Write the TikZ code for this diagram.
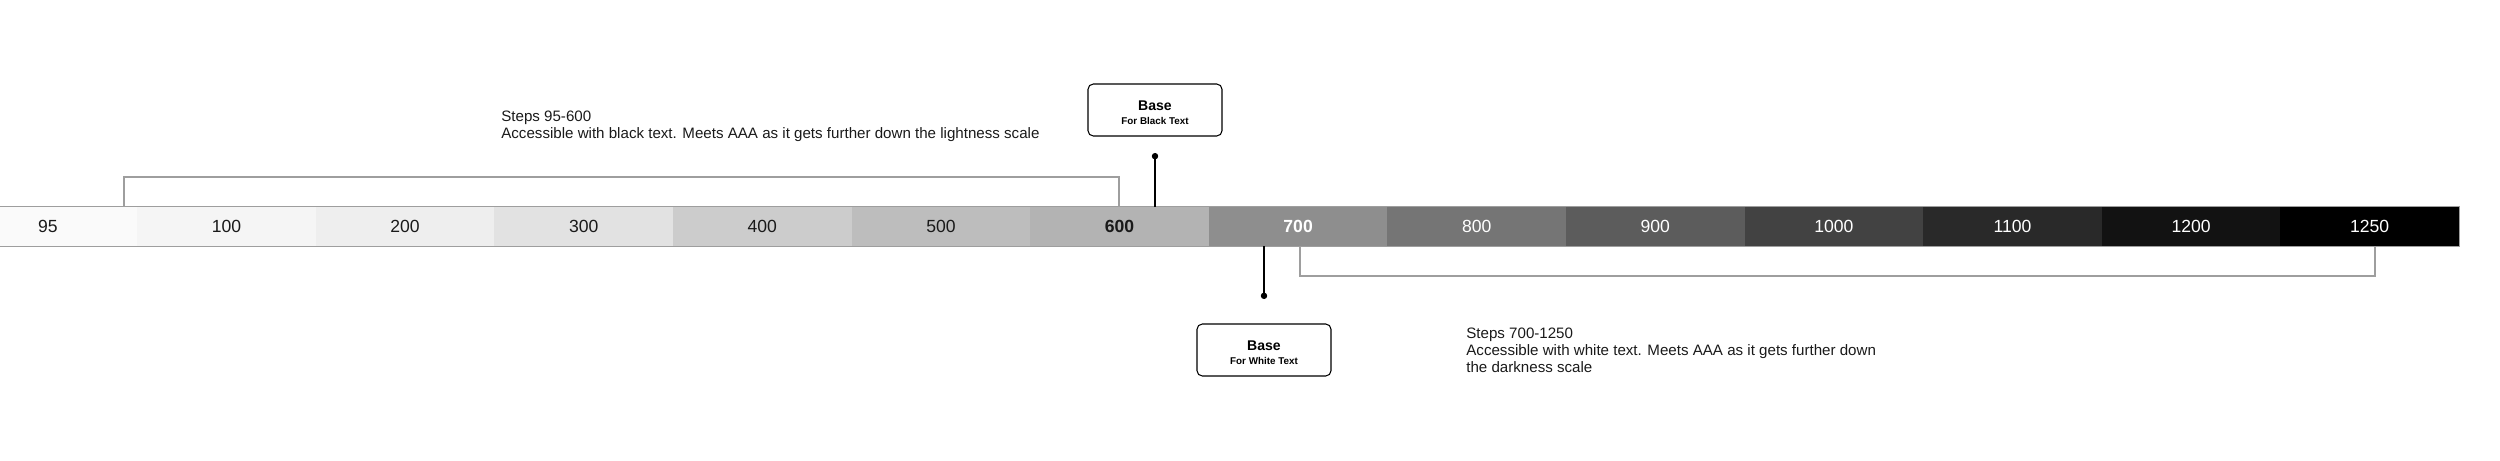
\documentclass[tikz,border=0pt]{standalone}
\usepackage{fontspec}
\setmainfont{Liberation Sans}
\usepackage{tikz}
\usetikzlibrary{arrows.meta}
\usepackage{xcolor}
\definecolor{s95}  {HTML}{FAFAFA}
\definecolor{s100} {HTML}{F5F5F5}
\definecolor{s200} {HTML}{EEEEEE}
\definecolor{s300} {HTML}{E2E2E2}
\definecolor{s400} {HTML}{CCCCCC}
\definecolor{s500} {HTML}{BDBDBD}
\definecolor{s600} {HTML}{B3B3B3}
\definecolor{s700} {HTML}{8E8E8E}
\definecolor{s800} {HTML}{757575}
\definecolor{s900} {HTML}{5C5C5C}
\definecolor{s1000}{HTML}{424242}
\definecolor{s1100}{HTML}{292929}
\definecolor{s1200}{HTML}{121212}
\definecolor{s1250}{HTML}{000000}
\definecolor{cink} {HTML}{1A1A1A}
\definecolor{cline}{HTML}{9E9E9E}

\begin{document}
\begin{tikzpicture}[
  cell/.style = {rectangle, inner sep=0pt,
                 minimum width=3.572cm, minimum height=0.78cm,
                 text centered, font=\fontsize{10}{12}\selectfont},
  lt/.style   = {cell, text=cink},
  dk/.style   = {cell, text=white},
  basebox/.style = {rectangle, rounded corners=3pt, draw=black, line width=0.6pt,
                 fill=white, minimum width=2.68cm, minimum height=1.04cm,
                 align=center, inner sep=0pt, font=\fontsize{5.6}{8}\selectfont\bfseries},
  note/.style = {anchor=north west, align=left, inner sep=0pt, text=cink,
                 font=\fontsize{8.6}{9.7}\selectfont},
  brk/.style  = {draw=cline, line width=0.9pt},
  pin/.style  = {-{Circle[length=3.6pt]}, line width=0.8pt, draw=black}
]
\clip (0,0) rectangle (50,9.2);
% colour steps
\node[lt, fill=s95]   (c95)   at ( 0.958, 4.67) {95};
\node[lt, fill=s100]  (c100)  at ( 4.530, 4.67) {100};
\node[lt, fill=s200]  (c200)  at ( 8.102, 4.67) {200};
\node[lt, fill=s300]  (c300)  at (11.674, 4.67) {300};
\node[lt, fill=s400]  (c400)  at (15.246, 4.67) {400};
\node[lt, fill=s500]  (c500)  at (18.818, 4.67) {500};
\node[lt, fill=s600, font=\fontsize{10}{12}\selectfont\bfseries] (c600) at (22.390, 4.67) {600};
\node[dk, fill=s700, font=\fontsize{10}{12}\selectfont\bfseries] (c700) at (25.962, 4.67) {700};
\node[dk, fill=s800]  (c800)  at (29.534, 4.67) {800};
\node[dk, fill=s900]  (c900)  at (33.106, 4.67) {900};
\node[dk, fill=s1000] (c1000) at (36.678, 4.67) {1000};
\node[dk, fill=s1100] (c1100) at (40.250, 4.67) {1100};
\node[dk, fill=s1200] (c1200) at (43.822, 4.67) {1200};
\node[dk, fill=s1250] (c1250) at (47.394, 4.67) {1250};
\draw[cline, line width=0.4pt] (c95.north west) -- (c1250.north east)
  -- (c1250.south east) -- (c95.south west);

% bases
\node[basebox] (bb) at (23.10, 7.00)
  {\rule{0pt}{9pt}{\fontsize{8}{8}\selectfont Base}\\For Black Text};
\node[basebox] (bw) at (25.28, 2.20)
  {\rule{0pt}{9pt}{\fontsize{8}{8}\selectfont Base}\\For White Text};
\coordinate (pb) at (23.10, 6.14);
\coordinate (pw) at (25.28, 3.22);
\draw[pin] (pb |- c600.north) -- (pb);
\draw[pin] (pw |- c700.south) -- (pw);

% ranges
\coordinate (ta) at ( 2.48, 5.66);
\coordinate (tb) at (22.38, 5.66);
\coordinate (ua) at (26.00, 3.68);
\coordinate (ub) at (47.50, 3.68);
\draw[brk] (ta |- c95.north) -- (ta) -- (tb) -- (tb |- c600.north);
\draw[brk] (ua |- c700.south) -- (ua) -- (ub) -- (ub |- c1250.south);

\node[note] (nt) at (10.02, 6.99)
  {Steps 95-600\\Accessible with black text. Meets AAA as it gets further down the lightness scale};
\node[note] (nw) at (29.32, 2.65)
  {Steps 700-1250\\Accessible with white text. Meets AAA as it gets further down\\the darkness scale};
\end{tikzpicture}
\end{document}
